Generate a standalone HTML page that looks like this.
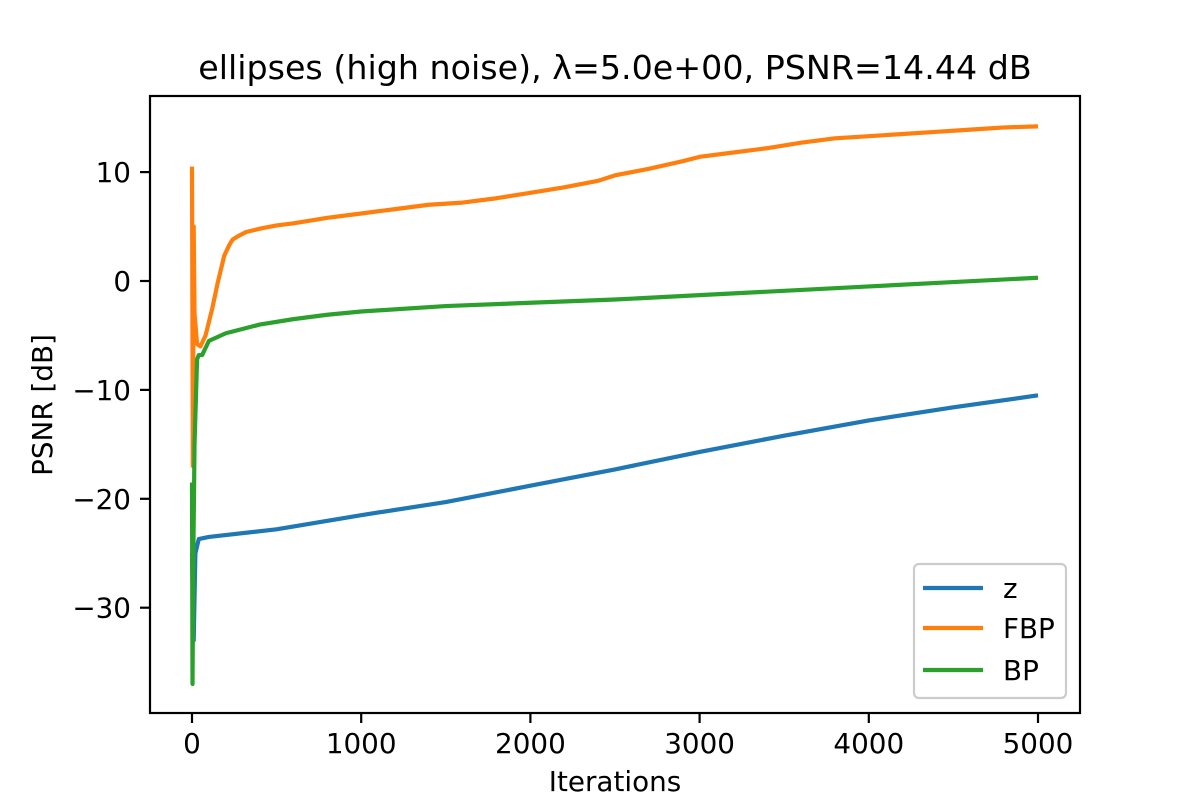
<!DOCTYPE html>
<html><head><meta charset="utf-8"><style>
body{margin:0;background:#fff}
svg text{font-family:"DejaVu Sans","Liberation Sans",sans-serif;fill:#000}
</style></head><body>
<svg id="chart" width="1200" height="800" viewBox="0 0 1200 800">
<rect width="1200" height="800" fill="#fff"/>
<text x="615" y="79" font-size="33.3" text-anchor="middle">ellipses (high noise), λ=5.0e+00, PSNR=14.44 dB</text>
<g id="series"></g>
<rect x="150" y="96" width="930" height="617" fill="none" stroke="#000" stroke-width="2.2"/>
<g id="xticks"></g>
<g id="yticks"></g>
<text x="615" y="791" font-size="27.8" text-anchor="middle">Iterations</text>
<text x="0" y="0" font-size="27.8" text-anchor="middle" transform="translate(52,405) rotate(-90)">PSNR [dB]</text>
<g>
<rect x="914" y="564" width="152" height="134" rx="5" fill="#fff" fill-opacity="0.8" stroke="#ccc" stroke-width="2.2"/>
<g><line x1="923" y1="588" x2="983" y2="588" stroke="#1f77b4" stroke-width="4.2"/><text x="1003" y="598" font-size="27.8">z</text></g>
<g><line x1="923" y1="628" x2="983" y2="628" stroke="#ff7f0e" stroke-width="4.2"/><text x="1003" y="638" font-size="27.8">FBP</text></g>
<g><line x1="923" y1="670" x2="983" y2="670" stroke="#2ca02c" stroke-width="4.2"/><text x="1003" y="680" font-size="27.8">BP</text></g>
</g>
</svg>
<script>
const xTicks=[0,1000,2000,3000,4000,5000];
const yTicks=[10,0,-10,-20,-30];
const fbpIter=[0,5,10,15,30,50,80,120,150,170,190,220,240,270,320,400,500,600,800,1000,1200,1400,1600,1800,2000,2200,2400,2500,2700,2900,3000,3200,3400,3600,3800,4000,4200,4400,4600,4800,5000];
const fbpVal=[10.5,-17,5,-3,-5.8,-6,-5,-2.5,-0.3,1,2.3,3.3,3.8,4.1,4.5,4.8,5.1,5.3,5.8,6.2,6.6,7,7.2,7.6,8.1,8.6,9.2,9.7,10.3,11,11.4,11.8,12.2,12.7,13.1,13.3,13.5,13.7,13.9,14.1,14.2];
const bpIter=[0,3,8,15,30,40,60,100,200,400,600,800,1000,1500,2000,2500,3000,3500,4000,4500,5000];
const bpVal=[-18.5,-37,-25,-15,-7.2,-6.8,-6.8,-5.5,-4.8,-4,-3.5,-3.1,-2.8,-2.3,-2,-1.7,-1.3,-0.9,-0.5,-0.1,0.3];
const zIter=[0,10,20,40,100,500,1000,1500,2000,2500,3000,3500,4000,4500,5000];
const zVal=[-25,-33,-25,-23.7,-23.5,-22.8,-21.5,-20.3,-18.8,-17.3,-15.7,-14.2,-12.8,-11.6,-10.5];
const NS='http://www.w3.org/2000/svg';
const xs=v=>192+v*(846/5000);
const ys=v=>281-v*10.89;
function line(it,val,color,name){
  const p=document.createElementNS(NS,'polyline');
  p.setAttribute('points',it.map((x,i)=>xs(x)+','+ys(val[i])).join(' '));
  p.setAttribute('fill','none');p.setAttribute('stroke',color);p.setAttribute('stroke-width','4.2');
  p.setAttribute('stroke-linejoin','round');
  
  
  document.getElementById('series').appendChild(p);
}
line(zIter,zVal,'#1f77b4','z-line');
line(fbpIter,fbpVal,'#ff7f0e','fbp-line');
line(bpIter,bpVal,'#2ca02c','bp-line');
const xg=document.getElementById('xticks');
xTicks.forEach(t=>{
  const g=document.createElementNS(NS,'g');
  
  
  g.innerHTML=`<line x1="${xs(t)}" y1="713" x2="${xs(t)}" y2="723" stroke="#000" stroke-width="2.2"/><text x="${xs(t)}" y="753" font-size="27.8" text-anchor="middle">${t}</text>`;
  xg.appendChild(g);
});
const yg=document.getElementById('yticks');
yTicks.forEach(t=>{
  const g=document.createElementNS(NS,'g');
  
  
  const lbl=t<0?'\u2212'+(-t):String(t);
  g.innerHTML=`<line x1="140" y1="${ys(t)}" x2="150" y2="${ys(t)}" stroke="#000" stroke-width="2.2"/><text x="131" y="${ys(t)+10}" font-size="27.8" text-anchor="end">${lbl}</text>`;
  yg.appendChild(g);
});
</script>
</body></html>
